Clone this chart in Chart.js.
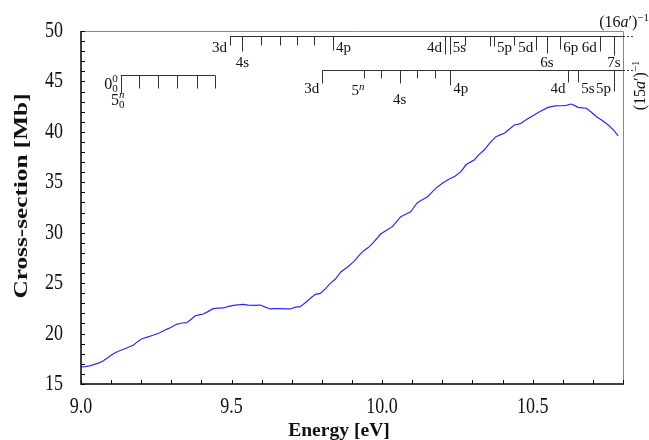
<!DOCTYPE html>
<html>
<head>
<meta charset="utf-8">
<script src="https://cdn.jsdelivr.net/npm/chart.js"></script>
<style>
  html, body { margin: 0; padding: 0; background: #fff; }
</style>
</head>
<body>
<canvas id="chart" width="649" height="440"></canvas>
<script>
// --- data ---
const energy = [
  9.000, 9.015, 9.028, 9.045, 9.060, 9.073, 9.090, 9.106, 9.117, 9.128,
  9.150, 9.173, 9.188, 9.201, 9.220, 9.239, 9.260, 9.284, 9.300, 9.317,
  9.335, 9.351, 9.365, 9.378, 9.392, 9.406, 9.420, 9.439, 9.455, 9.473,
  9.490, 9.506, 9.520, 9.539, 9.556, 9.573, 9.595, 9.610, 9.628, 9.645,
  9.662, 9.680, 9.695, 9.712, 9.728, 9.745, 9.762, 9.778, 9.795, 9.812,
  9.828, 9.845, 9.862, 9.885, 9.906, 9.922, 9.939, 9.955, 9.970, 9.995,
  10.015, 10.034, 10.048, 10.062, 10.080, 10.095, 10.105, 10.117, 10.135, 10.151,
  10.165, 10.178, 10.200, 10.223, 10.242, 10.262, 10.278, 10.290, 10.306, 10.320,
  10.339, 10.358, 10.378, 10.392, 10.406, 10.420, 10.439, 10.450, 10.462, 10.478,
  10.495, 10.520, 10.551, 10.575, 10.595, 10.612, 10.628, 10.640, 10.651, 10.665,
  10.678, 10.695, 10.712, 10.730, 10.751, 10.768, 10.784
];
const crossSection = [
  16.69, 16.72, 16.79, 16.95, 17.10, 17.28, 17.62, 17.98, 18.15, 18.30,
  18.55, 18.84, 19.20, 19.46, 19.65, 19.83, 20.05, 20.42, 20.62, 20.92,
  21.05, 21.08, 21.40, 21.74, 21.86, 21.94, 22.15, 22.47, 22.52, 22.54,
  22.70, 22.80, 22.84, 22.90, 22.82, 22.80, 22.83, 22.65, 22.44, 22.48,
  22.47, 22.45, 22.44, 22.62, 22.67, 23.05, 23.50, 23.89, 23.99, 24.45,
  24.98, 25.41, 26.08, 26.60, 27.13, 27.70, 28.22, 28.55, 29.00, 29.87,
  30.25, 30.60, 31.10, 31.59, 31.85, 32.08, 32.50, 32.98, 33.30, 33.57,
  34.00, 34.40, 34.90, 35.33, 35.60, 36.05, 36.71, 36.95, 37.21, 37.70,
  38.20, 38.90, 39.52, 39.70, 39.86, 40.20, 40.68, 40.75, 40.85, 41.20,
  41.50, 41.95, 42.43, 42.57, 42.59, 42.62, 42.76, 42.60, 42.43, 42.38,
  42.34, 41.95, 41.50, 41.15, 40.68, 40.20, 39.59
];
const xTicks = [9.0, 9.5, 10.0, 10.5];
const xTickLabels = ["9.0", "9.5", "10.0", "10.5"];
const yTicks = [15, 20, 25, 30, 35, 40, 45, 50];
const yTickLabels = ["15", "20", "25", "30", "35", "40", "45", "50"];

// Rydberg series converging to (16a')^-1
const upperLevel = 49.5;
const upperE = [9.495, 9.536, 9.597, 9.662, 9.719, 9.775, 9.837, 10.209, 10.225, 10.275,
  10.358, 10.372, 10.439, 10.512, 10.547, 10.592, 10.723, 10.770];
const upperLbl = ["3d", "4s", "", "", "", "", "4p", "4d", "5s", "", "", "5p", "", "5d", "6s", "6p", "6d", "7s"];

// Rydberg series converging to (15a')^-1
const lowerLevel = 46.1;
const lowerE = [9.801, 9.939, 9.997, 10.058, 10.117, 10.175, 10.226, 10.619, 10.651, 10.770];
const lowerLbl = ["3d", "", "", "4s", "", "", "4p", "4d", "5s", "5p"];

// vibrational progression 5^n_0
const vibLevel = 45.6;
const vibE = [9.132, 9.193, 9.256, 9.319, 9.384, 9.445];

// --- styling of the level markers (placement l/r/b and tick length in px) ---
const upperPlace = ["l", "b", "", "", "", "", "r", "l", "r", "", "", "r", "", "l", "b", "r", "l", "b"];
const upperLen = [9, 15, 9, 9, 9, 9, 14, 18, 18, 9, 10, 10, 9, 14, 17, 13, 15, 19];
const lowerPlace = ["l", "", "", "b", "", "", "r", "l", "r", "l"];
const lowerLen = [13, 8, 8, 13, 8, 8, 15, 12, 12, 21];
const vibLen = [18, 13, 13, 13, 13, 13];

const SERIF = '"Liberation Serif", "Times New Roman", serif';

function rich(ctx, parts, x, y, align, size) {
  const small = Math.round(size * 0.7);
  const fnt = (s, it) => (it ? "italic " : "") + s + "px " + SERIF;
  const widths = parts.map(p => {
    if (p.stack) {
      ctx.font = fnt(small, p.it);
      const a = ctx.measureText(p.sup).width;
      ctx.font = fnt(small, false);
      return Math.max(a, ctx.measureText(p.sub).width);
    }
    ctx.font = fnt(p.sup ? small : size, p.it);
    return ctx.measureText(p.t).width;
  });
  const total = widths.reduce((a, b) => a + b, 0);
  let cx = align === "right" ? x - total : align === "center" ? x - total / 2 : x;
  ctx.textAlign = "left";
  ctx.textBaseline = "middle";
  parts.forEach((p, i) => {
    if (p.stack) {
      ctx.font = fnt(small, p.it);
      ctx.fillText(p.sup, cx, y - size * 0.3);
      ctx.font = fnt(small, false);
      ctx.fillText(p.sub, cx, y + size * 0.32);
    } else if (p.sup) {
      ctx.font = fnt(small, p.it);
      ctx.fillText(p.t, cx, y - size * 0.3);
    } else {
      ctx.font = fnt(size, p.it);
      ctx.fillText(p.t, cx, y);
    }
    cx += widths[i];
  });
}

function drawSeries(ctx, chart, level, es, lbls, places, lens, cfg) {
  const xs = chart.scales.x, ys = chart.scales.y, area = chart.chartArea;
  const y0 = Math.round(ys.getPixelForValue(level)) + 0.5;
  const x0 = xs.getPixelForValue(es[0]);
  const x1 = cfg.toEdge ? area.right : xs.getPixelForValue(es[es.length - 1]);
  ctx.strokeStyle = "#333";
  ctx.lineWidth = 1;
  ctx.beginPath();
  ctx.moveTo(x0, y0); ctx.lineTo(x1, y0);
  es.forEach((e, i) => {
    const x = Math.round(xs.getPixelForValue(e)) + 0.5;
    ctx.moveTo(x, y0); ctx.lineTo(x, y0 + lens[i]);
  });
  ctx.stroke();
  if (cfg.dotted) {
    ctx.save();
    ctx.setLineDash([2, 2]);
    ctx.beginPath();
    ctx.moveTo(area.right, y0); ctx.lineTo(area.right + 10, y0);
    ctx.stroke();
    ctx.restore();
  }
  ctx.fillStyle = "#111";
  es.forEach((e, i) => {
    if (!lbls || !lbls[i]) return;
    const x = xs.getPixelForValue(e);
    const p = places[i];
    if (p === "l") rich(ctx, [{ t: lbls[i] }], x - 3, y0 + cfg.sideDy, "right", 15);
    else if (p === "r") rich(ctx, [{ t: lbls[i] }], x + 3, y0 + cfg.sideDy, "left", 15);
    else rich(ctx, [{ t: lbls[i] }], x, y0 + cfg.belowDy, "center", 15);
  });
}

function stretched(ctx, txt, x, y, sx, sy, rot) {
  ctx.save();
  ctx.translate(x, y);
  if (rot) ctx.rotate(rot);
  ctx.scale(sx, sy);
  ctx.fillText(txt, 0, 0);
  ctx.restore();
}

const framePlugin = {
  id: "frame",
  afterDatasetsDraw(chart) {
    const { ctx, chartArea: a, scales: { x: xs, y: ys } } = chart;
    ctx.save();

    // top / right frame in grey
    ctx.strokeStyle = "#888";
    ctx.lineWidth = 1;
    ctx.beginPath();
    ctx.moveTo(a.left, a.top + 0.5); ctx.lineTo(a.right + 0.5, a.top + 0.5);
    ctx.lineTo(a.right + 0.5, a.bottom);
    ctx.stroke();

    // inward minor ticks
    ctx.strokeStyle = "#000";
    ctx.beginPath();
    for (let v = xs.min; v <= xs.max + 1e-6; v += 0.1) {
      const px = Math.round(xs.getPixelForValue(v)) + 0.5;
      ctx.moveTo(px, a.bottom); ctx.lineTo(px, a.bottom - 4);
    }
    for (let v = ys.min; v <= ys.max + 1e-6; v += 1) {
      const py = Math.round(ys.getPixelForValue(v)) + 0.5;
      ctx.moveTo(a.left, py); ctx.lineTo(a.left + 4, py);
    }
    ctx.stroke();

    // axes
    ctx.lineWidth = 1.5;
    ctx.beginPath();
    ctx.moveTo(a.left, a.top); ctx.lineTo(a.left, a.bottom); ctx.lineTo(a.right + 1, a.bottom);
    ctx.stroke();

    // tick labels
    ctx.fillStyle = "#111";
    ctx.font = "18px " + SERIF;
    ctx.textBaseline = "middle";
    ctx.textAlign = "center";
    xs.ticks.forEach((t, i) => stretched(ctx, xTickLabels[i], xs.getPixelForValue(t.value), a.bottom + 23, 1, 1.28));
    ctx.textAlign = "right";
    ys.ticks.forEach((t, i) => stretched(ctx, yTickLabels[i], a.left - 18, ys.getPixelForValue(t.value), 1, 1.28));

    // axis titles
    ctx.font = "bold 19px " + SERIF;
    ctx.textAlign = "center";
    stretched(ctx, "Energy [eV]", 339, 431, 1.03, 1);
    stretched(ctx, "Cross-section [Mb]", 22, 196, 1.33, 1, -Math.PI / 2);

    // level markers
    drawSeries(ctx, chart, upperLevel, upperE, upperLbl, upperPlace, upperLen,
      { toEdge: true, dotted: true, sideDy: 12, belowDy: 27 });
    drawSeries(ctx, chart, lowerLevel, lowerE, lowerLbl, lowerPlace, lowerLen,
      { toEdge: true, dotted: true, sideDy: 19, belowDy: 30 });
    drawSeries(ctx, chart, vibLevel, vibE, null, [], vibLen, { toEdge: false, dotted: false });

    ctx.fillStyle = "#111";
    const v0 = xs.getPixelForValue(vibE[0]);
    const vy = ys.getPixelForValue(vibLevel);
    rich(ctx, [{ t: "0" }, { stack: true, sup: "0", sub: "0" }], v0 - 3, vy + 9, "right", 16);
    rich(ctx, [{ t: "5" }, { stack: true, it: true, sup: "n", sub: "0" }], v0 - 3, vy + 25, "center", 16);
    const l3d = xs.getPixelForValue(lowerE[0]);
    const l4s = xs.getPixelForValue(lowerE[3]);
    rich(ctx, [{ t: "5" }, { t: "n", sup: true, it: true }], (l3d + l4s) / 2 - 3, ys.getPixelForValue(lowerLevel) + 21, "center", 15);

    // ion-state labels
    const uy = ys.getPixelForValue(upperLevel);
    rich(ctx, [{ t: "(16" }, { t: "a", it: true }, { t: "\u2032)" }, { t: "\u22121", sup: true }], a.right + 26, uy - 13, "right", 16);
    ctx.save();
    ctx.translate(a.right + 18, ys.getPixelForValue(lowerLevel) + 15);
    ctx.rotate(-Math.PI / 2);
    rich(ctx, [{ t: "(15" }, { t: "a", it: true }, { t: "\u2032)" }, { t: "\u22121", sup: true }], 0, 0, "center", 16);
    ctx.restore();

    ctx.restore();
  }
};

new Chart(document.getElementById("chart"), {
  type: "line",
  data: {
    datasets: [{
      data: energy.map((e, i) => ({ x: e, y: crossSection[i] })),
      borderColor: "#2a2aff",
      borderWidth: 1.2,
      pointRadius: 0,
      tension: 0,
      fill: false
    }]
  },
  options: {
    responsive: false,
    animation: false,
    devicePixelRatio: 1,
    layout: { padding: { top: 31, right: 26, left: 0, bottom: 0 } },
    plugins: { legend: { display: false }, tooltip: { enabled: false } },
    scales: {
      x: {
        type: "linear",
        min: 9.0,
        max: 10.8,
        afterBuildTicks: s => { s.ticks = xTicks.map(v => ({ value: v })); },
        afterFit: s => { s.height = 56; },
        ticks: { display: false },
        grid: { display: false, drawTicks: false },
        border: { display: false }
      },
      y: {
        min: 15,
        max: 50,
        afterBuildTicks: s => { s.ticks = yTicks.map(v => ({ value: v })); },
        afterFit: s => { s.width = 81; },
        ticks: { display: false },
        grid: { display: false, drawTicks: false },
        border: { display: false }
      }
    }
  },
  plugins: [framePlugin]
});
</script>
</body>
</html>
